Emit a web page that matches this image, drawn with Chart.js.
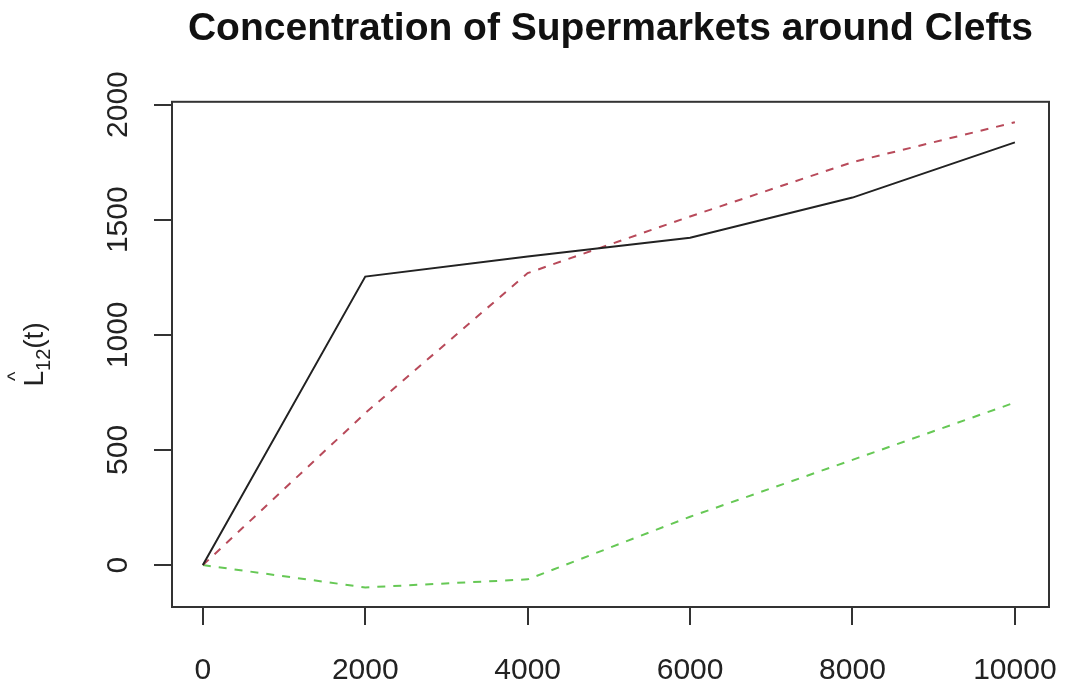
<!DOCTYPE html>
<html>
<head>
<meta charset="utf-8">
<script src="https://cdn.jsdelivr.net/npm/chart.js@4.4.1/dist/chart.umd.min.js"></script>
<style>
  html, body { margin: 0; padding: 0; background: #fff; }
  #wrap { width: 1066px; height: 688px; position: relative; }
</style>
</head>
<body>
<div id="wrap"><canvas id="chart"></canvas></div>
<script>
// --- Data ---
const distances = [0, 2000, 4000, 6000, 8000, 10000];
const observedL = [0, 1253, 1340, 1422, 1596, 1836];   // ligne noire
const upperEnvelope = [0, 660, 1268, 1514, 1750, 1923]; // tirets rouges
const lowerEnvelope = [0, -97, -62, 210, 457, 706];     // tirets verts

const xTicks = [0, 2000, 4000, 6000, 8000, 10000];
const yTicks = [0, 500, 1000, 1500, 2000];

const FONT = "'Liberation Sans', Arial, sans-serif";

function toPoints(values) {
    return distances.map((d, i) => ({ x: d, y: values[i] }));
}

// cadre autour de la zone de tracé (comme box() en R)
const boxPlugin = {
    id: 'box',
    afterDraw(chart) {
        const { ctx, chartArea: a } = chart;
        ctx.save();
        ctx.strokeStyle = '#333';
        ctx.lineWidth = 2;
        ctx.strokeRect(a.left, a.top, a.right - a.left, a.bottom - a.top);
        ctx.restore();
    }
};

// titre de l'axe y : L chapeau indice 12 (t)
const yTitlePlugin = {
    id: 'yTitle',
    afterDraw(chart) {
        const { ctx, chartArea: a } = chart;
        const cy = (a.top + a.bottom) / 2;
        ctx.save();
        ctx.translate(43, cy);
        ctx.rotate(-Math.PI / 2);
        ctx.fillStyle = '#222';
        ctx.textBaseline = 'alphabetic';
        ctx.textAlign = 'left';
        const big = '28px ' + FONT;
        const small = '20px ' + FONT;
        ctx.font = big;
        const wL = ctx.measureText('L').width;
        const wP = ctx.measureText('(t)').width;
        ctx.font = small;
        const wS = ctx.measureText('12').width;
        let x = -(wL + wS + wP) / 2;
        ctx.font = big;
        ctx.fillText('L', x, 0);
        // chapeau
        ctx.font = small;
        ctx.fillText('^', x + wL * 0.35, -21);
        x += wL;
        ctx.fillText('12', x, 7);
        x += wS;
        ctx.font = big;
        ctx.fillText('(t)', x, 0);
        ctx.restore();
    }
};

const ctx = document.getElementById('chart').getContext('2d');
const chart = new Chart(ctx, {
    type: 'line',
    data: {
        datasets: [
            {
                label: 'observed',
                data: toPoints(observedL),
                borderColor: '#222',
                borderWidth: 2,
                pointRadius: 0,
                tension: 0
            },
            {
                label: 'upper',
                data: toPoints(upperEnvelope),
                borderColor: '#b84a5a',
                borderWidth: 2,
                borderDash: [8, 8],
                pointRadius: 0,
                tension: 0
            },
            {
                label: 'lower',
                data: toPoints(lowerEnvelope),
                borderColor: '#66c855',
                borderWidth: 2,
                borderDash: [8, 8],
                pointRadius: 0,
                tension: 0
            }
        ]
    },
    options: {
        responsive: true,
        maintainAspectRatio: false,
        animation: false,
        layout: { padding: { left: 0, right: 17, top: 0, bottom: 0 } },
        plugins: {
            legend: { display: false },
            tooltip: { enabled: false },
            title: {
                display: true,
                fullSize: false,
                text: 'Concentration of Supermarkets around Clefts',
                color: '#111',
                font: { family: FONT, size: 39, weight: 'bold' },
                padding: { top: 6, bottom: 49 }
            }
        },
        scales: {
            x: {
                type: 'linear',
                position: 'bottom',
                min: -380,
                max: 10420,
                afterBuildTicks: s => { s.ticks = xTicks.map(v => ({ value: v })); },
                afterFit: s => { s.height = 81; s.paddingLeft = 0; s.paddingRight = 0; },
                grid: { drawOnChartArea: false, drawTicks: true, tickLength: 18, color: '#333', lineWidth: 2 },
                border: { display: true, color: '#333', width: 2 },
                ticks: {
                    autoSkip: false,
                    maxRotation: 0,
                    padding: 28,
                    color: '#222',
                    font: { family: FONT, size: 30 },
                    callback: v => String(v)
                }
            },
            y: {
                type: 'linear',
                min: -182,
                max: 2012,
                afterBuildTicks: s => { s.ticks = yTicks.map(v => ({ value: v })); },
                afterFit: s => { s.width = 172; s.paddingTop = 0; s.paddingBottom = 0; },
                grid: { drawOnChartArea: false, drawTicks: true, tickLength: 18, color: '#333', lineWidth: 2 },
                border: { display: true, color: '#333', width: 2 },
                ticks: {
                    autoSkip: false,
                    minRotation: 90,
                    maxRotation: 90,
                    crossAlign: 'center',
                    padding: 2,
                    color: '#222',
                    font: { family: FONT, size: 30 },
                    callback: v => String(v)
                }
            }
        }
    },
    plugins: [boxPlugin, yTitlePlugin]
});
</script>
</body>
</html>
